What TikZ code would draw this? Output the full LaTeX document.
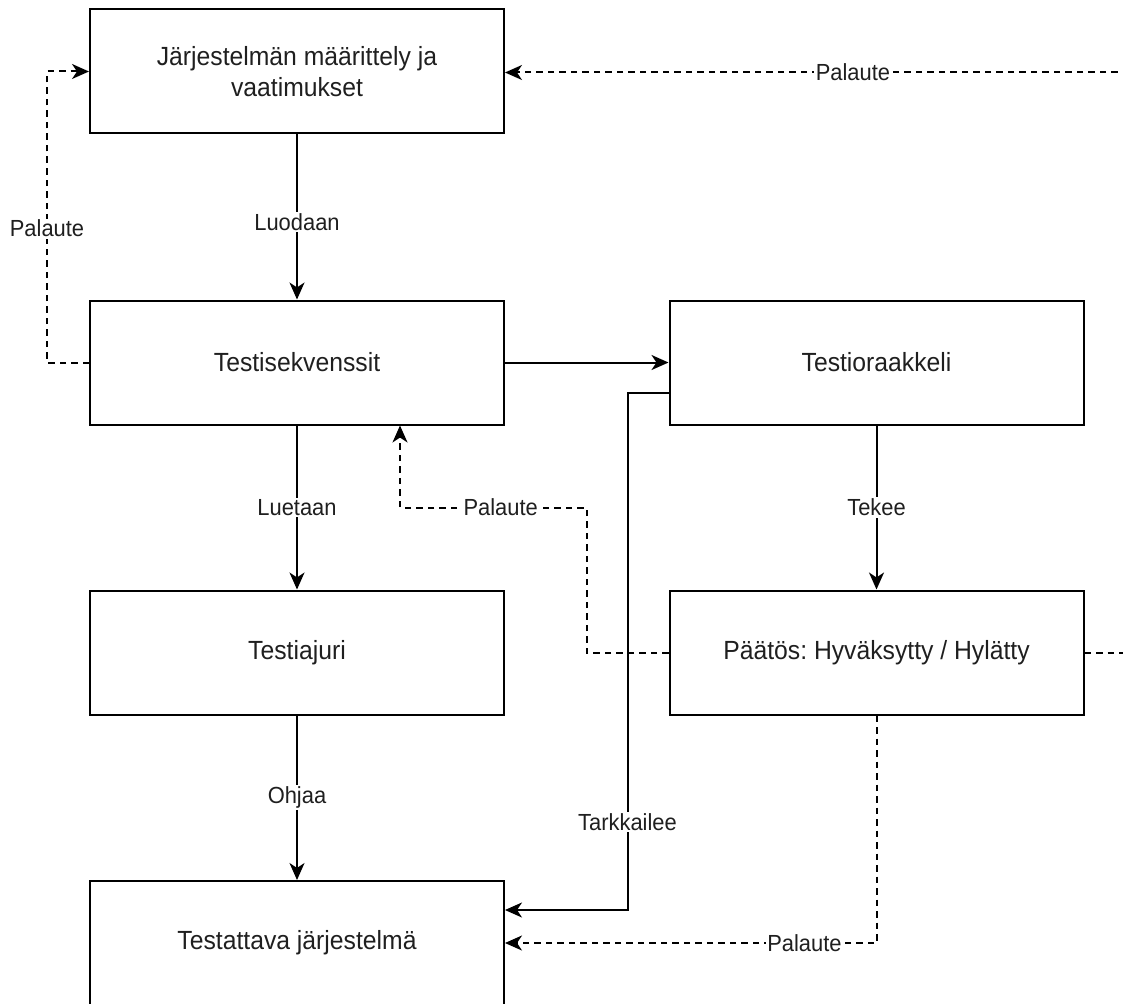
\documentclass[tikz,border=0pt]{standalone}
\usepackage{fontspec}
\setmainfont{Liberation Sans}[FakeStretch=0.94]
\usetikzlibrary{arrows.meta,calc}
\frenchspacing

\begin{document}
\begin{tikzpicture}[
  x=1pt, y=-1pt,
  line width=2pt,
  box/.style={draw, rectangle, minimum width=414pt, minimum height=124pt,
              inner sep=0pt, align=center, text=black!88,
              font=\fontsize{26.3}{30.5}\selectfont},
  lbl/.style={fill=white, inner sep=1.5pt, text=black!88,
              font=\fontsize{23.3}{27}\selectfont},
  arr/.style={-{Stealth[length=17pt, width=15pt, inset=5pt]}},
  fb/.style={arr, dash pattern=on 6.5pt off 5pt},
]
\useasboundingbox (0,0) rectangle (1123,1003);
\clip (0,0) rectangle (1123,1003);

% process boxes
\node[box] (spec)   at (297,71.5)  {Järjestelmän määrittely ja\\vaatimukset};
\node[box] (seq)    at (297,362.5) {Testisekvenssit};
\node[box] (oracle) at (876.5,362.5) {Testioraakkeli};
\node[box] (driver) at (297,652.5) {Testiajuri};
\node[box] (verdict) at (876.5,652.5) {Päätös: Hyväksytty / Hylätty};
\node[box] (sut)    at (297,943)   {Testattava järjestelmä};

% main flow
\draw[arr] (spec.south) -- (seq.north) node[lbl, midway, yshift=-5pt] {Luodaan};
\draw[arr] (seq.south) -- (driver.north) node[lbl, midway] {Luetaan};
\draw[arr] (driver.south) -- (sut.north) node[lbl, midway] {Ohjaa};
\draw[arr] (seq.east) -- (oracle.west);
\draw[arr] (oracle.south) -- (verdict.north) node[lbl, midway] {Tekee};

% oracle observes the system under test
\draw[arr] ([yshift=-30pt]oracle.west) -- ++(-41,0)
  |- ([yshift=33pt]sut.east) node[lbl, pos=0.415] {Tarkkailee};

% feedback loops
\draw[fb] (seq.west) -- ++(-42,0) |- (spec.west)
  node[lbl, pos=0.23] {Palaute};

\coordinate (seqin) at ($(seq.south)+(103,0)$);
\draw[fb] (verdict.west) -- ++(-82,0) |- ($(seqin)+(0,82)$)
  node[lbl, pos=0.73] {Palaute} -- (seqin);

\draw[fb] (verdict.south) |- (sut.east) node[lbl, pos=0.597] {Palaute};

\draw[fb] (verdict.east) -- ++(60,0) |- ([yshift=-1pt]spec.east)
  node[lbl, pos=0.728] {Palaute};
\end{tikzpicture}
\end{document}
